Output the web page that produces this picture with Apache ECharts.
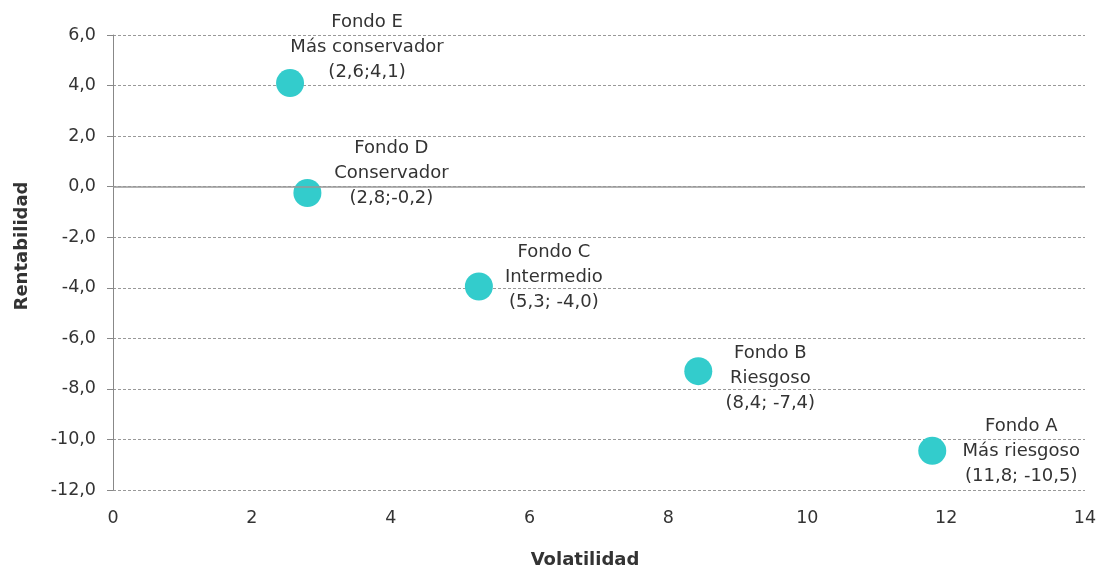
<!DOCTYPE html>
<html><head><meta charset="utf-8">
<script src="https://cdn.jsdelivr.net/npm/echarts@6/dist/echarts.min.js"></script>
<style>html,body{margin:0;padding:0;background:#fff}#c{width:1100px;height:569px}</style>
</head><body><div id="c"></div>
<script>
const fundNames = ['Fondo E','Fondo D','Fondo C','Fondo B','Fondo A'];
const fundTypes = ['Más conservador','Conservador','Intermedio','Riesgoso','Más riesgoso'];
const fundCoords = ['(2,6;4,1)','(2,8;-0,2)','(5,3; -4,0)','(8,4; -7,4)','(11,8; -10,5)'];
const volatility = [2.55, 2.8, 5.27, 8.43, 11.8];
const returns = [4.1, -0.25, -3.95, -7.3, -10.45];
const labelOffsets = [[77,-36],[84,-20],[75,-9],[72,7],[89,1]];
const FONT = 'DejaVu Sans';
const chart = echarts.init(document.getElementById('c'));
const data = volatility.map((v,i)=>({
  value:[v, returns[i]],
  label:{offset: labelOffsets[i]}
}));
chart.setOption({
  animation:false,
  grid:{left:113,right:15,top:35,bottom:79},
  xAxis:{type:'value',min:0,max:14,interval:2,
    axisLine:{show:false,onZero:false},axisTick:{show:false},splitLine:{show:false},
    axisLabel:{color:'#333',fontFamily:FONT,fontSize:17.5,margin:19}},
  yAxis:{type:'value',min:-12,max:6,interval:2,
    axisLine:{show:true,lineStyle:{color:'#888',width:1}},
    axisTick:{show:true,length:6,lineStyle:{color:'#888'}},
    splitLine:{show:true,lineStyle:{color:'#999',type:[3,2],width:1}},
    axisLabel:{color:'#333',fontFamily:FONT,fontSize:17.5,margin:17,
      formatter:v=>v.toFixed(1).replace('.',',')}},
  graphic:[
    {type:'text',x:585,y:560,style:{text:'Volatilidad',font:'bold 18px '+FONT,fill:'#333',align:'center',verticalAlign:'middle'}},
    {type:'text',x:22,y:246,rotation:Math.PI/2,style:{text:'Rentabilidad',font:'bold 18px '+FONT,fill:'#333',align:'center',verticalAlign:'middle'}}
  ],
  series:[{
    type:'scatter',symbolSize:28,
    itemStyle:{color:'#33CCCC',opacity:1},
    data:data,
    label:{show:true,position:'inside',align:'center',verticalAlign:'middle',
      color:'#333',fontFamily:FONT,fontSize:18,lineHeight:25,
      formatter:p=>fundNames[p.dataIndex]+'\n'+fundTypes[p.dataIndex]+'\n'+fundCoords[p.dataIndex]},
    markLine:{silent:true,symbol:'none',label:{show:false},
      lineStyle:{color:'#999',type:'solid',width:1.5},
      data:[{yAxis:0}]},
    z:3
  }]
});
</script></body></html>
